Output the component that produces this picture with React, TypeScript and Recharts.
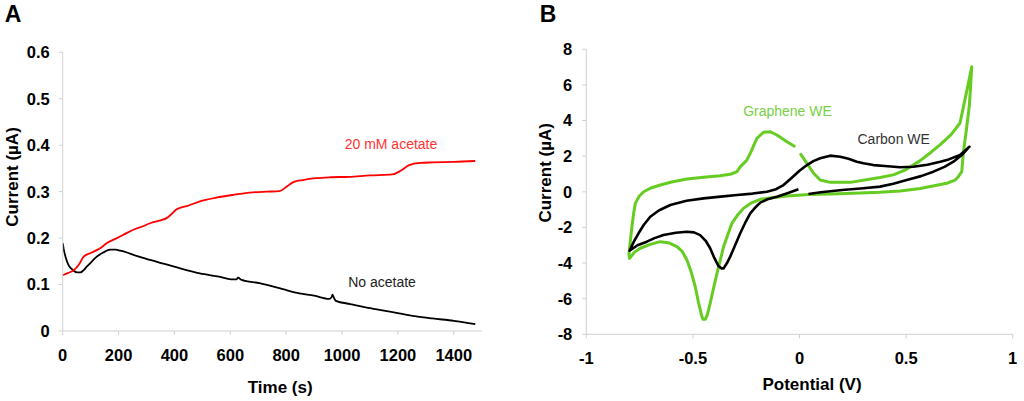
import React from 'react';
import { LineChart, Line, XAxis, YAxis, Label } from 'recharts';

// ---------- Panel A data ----------
const timeTicks = [0, 200, 400, 600, 800, 1000, 1200, 1400];
const currentTicksA = [0, 0.1, 0.2, 0.3, 0.4, 0.5, 0.6];

const acetateTime = [0, 20, 40, 60, 75, 100, 134, 160, 194, 220, 253, 290, 313, 350, 372, 390, 408, 450, 491, 550, 610, 670, 729, 776, 800, 824, 860, 907, 960, 1026, 1100, 1180, 1210, 1240, 1280, 1323, 1400, 1477];
const acetateCurrent = [0.12, 0.125, 0.131, 0.145, 0.16, 0.168, 0.178, 0.19, 0.2, 0.208, 0.218, 0.226, 0.232, 0.238, 0.243, 0.252, 0.262, 0.27, 0.279, 0.287, 0.293, 0.298, 0.3, 0.301, 0.31, 0.32, 0.325, 0.329, 0.331, 0.332, 0.335, 0.337, 0.345, 0.357, 0.362, 0.363, 0.364, 0.366];

const noAcetateTime = [0, 5, 10, 21, 35, 51, 63, 75, 87, 105, 122, 145, 170, 190, 206, 230, 253, 313, 396, 491, 560, 610, 622, 628, 640, 705, 788, 847, 900, 954, 962, 966, 972, 978, 1030, 1085, 1150, 1204, 1260, 1323, 1400, 1477];
const noAcetateCurrent = [0.189, 0.172, 0.16, 0.142, 0.132, 0.126, 0.126, 0.131, 0.139, 0.15, 0.16, 0.169, 0.175, 0.175, 0.173, 0.169, 0.164, 0.153, 0.139, 0.124, 0.117, 0.111, 0.111, 0.115, 0.11, 0.103, 0.09, 0.081, 0.076, 0.069, 0.072, 0.078, 0.07, 0.065, 0.058, 0.051, 0.044, 0.038, 0.032, 0.027, 0.022, 0.015];

// ---------- Panel B data ----------
const potentialTicks = [-1, -0.5, 0, 0.5, 1];
const currentTicksB = [-8, -6, -4, -2, 0, 2, 4, 6, 8];

const grapheneV = [0.003, 0.035, 0.066, 0.097, 0.144, 0.238, 0.378, 0.44, 0.5, 0.566, 0.62, 0.66, 0.71, 0.753, 0.78, 0.808, 0.797, 0.783, 0.769, 0.761, 0.745, 0.73, 0.691, 0.566, 0.472, 0.378, 0.25, 0.15, 0.042, -0.059, -0.12, -0.184, -0.225, -0.263, -0.29, -0.317, -0.336, -0.356, -0.372, -0.387, -0.403, -0.419, -0.432, -0.442, -0.452, -0.458, -0.474, -0.489, -0.508, -0.528, -0.55, -0.575, -0.61, -0.653, -0.7, -0.747, -0.775, -0.797, -0.8, -0.792, -0.786, -0.778, -0.77, -0.752, -0.731, -0.7, -0.653, -0.6, -0.528, -0.45, -0.372, -0.32, -0.293, -0.278, -0.247, -0.231, -0.2, -0.169, -0.137, -0.106, -0.059, -0.02];
const grapheneI = [2.16, 1.6, 1.04, 0.66, 0.53, 0.53, 0.8, 0.95, 1.25, 1.75, 2.25, 2.65, 3.2, 3.86, 5.4, 7.02, 4.87, 3.5, 2.25, 1.13, 0.85, 0.66, 0.48, 0.19, 0.04, -0.03, -0.08, -0.12, -0.15, -0.24, -0.32, -0.42, -0.62, -0.93, -1.3, -1.77, -2.4, -3.08, -3.85, -4.58, -5.4, -6.26, -6.9, -7.16, -7.16, -7.01, -6.2, -5.33, -4.5, -3.83, -3.35, -3.08, -2.88, -2.8, -2.95, -3.17, -3.4, -3.74, -3.5, -2.6, -1.96, -1.2, -0.65, -0.25, 0.0, 0.2, 0.38, 0.55, 0.72, 0.82, 0.9, 1.0, 1.13, 1.4, 1.78, 2.16, 3.0, 3.34, 3.37, 3.19, 2.81, 2.53];

const carbonV = [0.042, 0.1, 0.2, 0.3, 0.378, 0.44, 0.503, 0.57, 0.628, 0.68, 0.722, 0.76, 0.797, 0.753, 0.7, 0.66, 0.6, 0.534, 0.472, 0.4, 0.347, 0.3, 0.269, 0.23, 0.191, 0.144, 0.097, 0.065, 0.035, 0.0, -0.04, -0.075, -0.11, -0.153, -0.22, -0.293, -0.37, -0.45, -0.53, -0.606, -0.66, -0.7, -0.73, -0.755, -0.777, -0.797, -0.76, -0.716, -0.68, -0.638, -0.58, -0.528, -0.495, -0.466, -0.44, -0.419, -0.4, -0.38, -0.366, -0.356, -0.34, -0.325, -0.3, -0.278, -0.255, -0.231, -0.205, -0.184, -0.15, -0.106, -0.05, -0.005];
const carbonI = [-0.12, -0.03, 0.1, 0.2, 0.29, 0.45, 0.66, 0.88, 1.13, 1.4, 1.69, 2.05, 2.53, 2.07, 1.82, 1.69, 1.52, 1.41, 1.38, 1.45, 1.5, 1.6, 1.69, 1.85, 1.97, 2.03, 1.88, 1.72, 1.5, 1.18, 0.75, 0.38, 0.15, 0.0, -0.1, -0.18, -0.27, -0.37, -0.5, -0.74, -1.05, -1.4, -1.85, -2.33, -2.8, -3.31, -3.0, -2.8, -2.6, -2.43, -2.3, -2.24, -2.28, -2.43, -2.75, -3.17, -3.7, -4.17, -4.3, -4.3, -4.0, -3.64, -2.95, -2.33, -1.75, -1.21, -0.85, -0.61, -0.42, -0.28, -0.05, 0.14];

const acetateData = acetateTime.map((t, i) => ({ x: t, y: acetateCurrent[i] }));
const noAcetateData = noAcetateTime.map((t, i) => ({ x: t, y: noAcetateCurrent[i] }));
const grapheneData = grapheneV.map((v, i) => ({ x: v, y: grapheneI[i] }));
const carbonData = carbonV.map((v, i) => ({ x: v, y: carbonI[i] }));

const FONT = '"Liberation Sans", Arial, Helvetica, sans-serif';
const AXIS_COLOR = '#d0d0d0';
const tickStyle = { fill: '#000', fontSize: 16.5, fontWeight: 'bold' as const, fontFamily: FONT };

const xTitle = (text: string, dx: number, dy: number) => (props: any) => {
  const vb = props.viewBox || {};
  const cx = vb.x + vb.width / 2 + dx;
  const cy = vb.y + dy;
  return (
    <text x={cx} y={cy} textAnchor="middle" dominantBaseline="central" fontFamily={FONT} fontSize={17} fontWeight="bold" fill="#000">
      {text}
    </text>
  );
};

const yTitle = (text: string, cxAbs: number, dy: number) => (props: any) => {
  const vb = props.viewBox || {};
  const cx = cxAbs;
  const cy = vb.y + vb.height / 2 + dy;
  return (
    <text x={cx} y={cy} transform={`rotate(-90 ${cx} ${cy})`} textAnchor="middle" dominantBaseline="central" fontFamily={FONT} fontSize={17} fontWeight="bold" fill="#000">
      {text}
    </text>
  );
};

const abs = (left: number, top: number, color: string, size: number, bold = false): React.CSSProperties => ({
  position: 'absolute',
  left,
  top,
  transform: 'translate(-50%, -50%)',
  color,
  fontSize: size,
  fontWeight: bold ? 'bold' : 'normal',
  fontFamily: FONT,
  whiteSpace: 'nowrap',
  lineHeight: 1,
});

function PanelA() {
  return (
    <LineChart width={500} height={401} margin={{ top: 52.3, right: 18.3, bottom: 4, left: 2.7 }}>
      <XAxis
        type="number"
        dataKey="x"
        domain={[0, 1500]}
        ticks={timeTicks}
        tick={tickStyle}
        tickSize={4}
        tickMargin={14}
        height={66}
        axisLine={{ stroke: AXIS_COLOR }}
        tickLine={{ stroke: AXIS_COLOR }}
        allowDataOverflow
      >
        <Label content={xTitle('Time (s)', 8, 56)} />
      </XAxis>
      <XAxis xAxisId="top" orientation="top" type="number" domain={[0, 1500]} height={0} tick={false} tickLine={false} axisLine={{ stroke: AXIS_COLOR }} />
      <YAxis
        type="number"
        domain={[0, 0.6]}
        ticks={currentTicksA}
        tick={tickStyle}
        tickSize={4}
        tickMargin={9}
        width={60}
        axisLine={{ stroke: AXIS_COLOR }}
        tickLine={{ stroke: AXIS_COLOR }}
        allowDataOverflow
      >
        <Label content={yTitle('Current (µA)', 12.5, -14.7)} />
      </YAxis>
      <YAxis yAxisId="right" orientation="right" type="number" domain={[0, 0.6]} width={0} tick={false} tickLine={false} axisLine={{ stroke: AXIS_COLOR }} />
      <Line data={noAcetateData} dataKey="y" type="monotone" stroke="#000" strokeWidth={1.8} dot={false} isAnimationActive={false} />
      <Line data={acetateData} dataKey="y" type="monotone" stroke="#ff0000" strokeWidth={1.8} dot={false} isAnimationActive={false} />
    </LineChart>
  );
}

function PanelB() {
  return (
    <LineChart width={504} height={401} margin={{ top: 49.3, right: 11.3, bottom: 4.7, left: 4.3 }}>
      <XAxis
        type="number"
        dataKey="x"
        domain={[-1, 1]}
        ticks={potentialTicks}
        tick={tickStyle}
        tickSize={4}
        tickMargin={14}
        height={62}
        axisLine={{ stroke: AXIS_COLOR }}
        tickLine={{ stroke: AXIS_COLOR }}
        allowDataOverflow
      >
        <Label content={xTitle('Potential (V)', 12.5, 50)} />
      </XAxis>
      <XAxis xAxisId="top" orientation="top" type="number" domain={[-1, 1]} height={0} tick={false} tickLine={false} axisLine={{ stroke: AXIS_COLOR }} />
      <YAxis
        type="number"
        domain={[-8, 8]}
        ticks={currentTicksB}
        tick={tickStyle}
        tickSize={4}
        tickMargin={10}
        width={62}
        axisLine={{ stroke: AXIS_COLOR }}
        tickLine={{ stroke: AXIS_COLOR }}
        allowDataOverflow
      >
        <Label content={yTitle('Current (µA)', 25.7, -19)} />
      </YAxis>
      <YAxis yAxisId="right" orientation="right" type="number" domain={[-8, 8]} width={0} tick={false} tickLine={false} axisLine={{ stroke: AXIS_COLOR }} />
      <Line data={grapheneData} dataKey="y" type="linear" stroke="#66cc22" strokeWidth={3} strokeLinejoin="round" dot={false} isAnimationActive={false} />
      <Line data={carbonData} dataKey="y" type="linear" stroke="#000" strokeWidth={2.6} strokeLinejoin="round" dot={false} isAnimationActive={false} />
    </LineChart>
  );
}

export default function App() {
  return (
    <div style={{ position: 'absolute', left: 0, top: 0, width: 1024, height: 401, background: '#fff', overflow: 'hidden', fontFamily: FONT }}>
      <div style={{ position: 'absolute', left: 0, top: 0, width: 500, height: 401 }}>
        <PanelA />
      </div>
      <div style={{ position: 'absolute', left: 520, top: 0, width: 504, height: 401 }}>
        <PanelB />
      </div>
      <div style={abs(13, 13.5, '#000', 23, true)}>A</div>
      <div style={abs(548, 13.5, '#000', 23, true)}>B</div>
      <div style={abs(391, 144, '#ff3333', 14)}>20 mM acetate</div>
      <div style={abs(382, 282, '#222', 14)}>No acetate</div>
      <div style={abs(787.5, 110.5, '#77d044', 14)}>Graphene WE</div>
      <div style={abs(893.7, 139, '#333', 14)}>Carbon WE</div>
    </div>
  );
}
